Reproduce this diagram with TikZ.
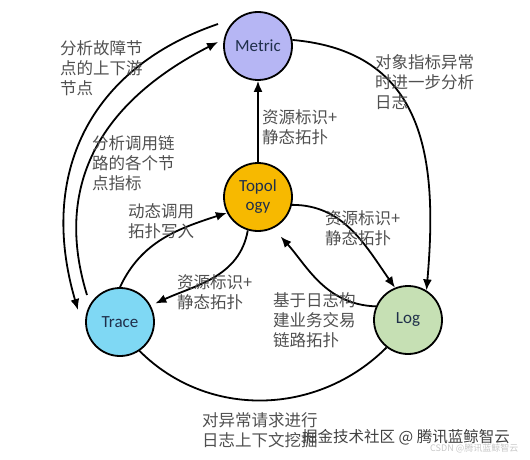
\documentclass[tikz,border=0pt]{standalone}
\usepackage{fontspec}
\setmainfont{Carlito}
\newfontfamily\cjk{Noto Sans CJK SC}
\usetikzlibrary{arrows.meta}

\definecolor{metricfill}{HTML}{B6B6F4}
\definecolor{topofill}{HTML}{F7B900}
\definecolor{tracefill}{HTML}{7FD8F4}
\definecolor{logfill}{HTML}{C6E0B4}
\definecolor{nodetext}{HTML}{1F2F4A}
\definecolor{lblgray}{HTML}{505050}

\begin{document}
\begin{tikzpicture}[x=1pt,y=1pt,
    ball/.style={circle,draw=black,line width=1.8pt,minimum size=68pt,inner sep=0pt,
        align=center,text=nodetext,font=\fontsize{17}{19}\selectfont},
    lbl/.style={anchor=north west,inner sep=0pt,align=left,text=lblgray,
        font=\cjk\fontsize{16.5}{20}\selectfont},
    conn/.style={line width=1.8pt,-{Latex[length=11pt,width=9pt]}},
    plain/.style={line width=1.8pt}]
        \useasboundingbox (0,0) rectangle (530,459);

        % the four data sources
        \node[ball,fill=metricfill] (metric) at (258,413) {Metric};
        \node[ball,fill=topofill] (topo) at (258,262) {Topol\\ogy};
        \node[ball,fill=tracefill] (trace) at (120,137) {Trace};
        \node[ball,fill=logfill] (log) at (408,139) {Log};

        % free ends of the two outer arcs
        \coordinate (outerA) at ([shift={(-40,22)}]metric.center);
        \coordinate (outerB) at ([shift={(-42,12)}]trace.center);
        \coordinate (innerA) at ([shift={(-33,27)}]trace.center);
        \coordinate (innerB) at ([shift={(-40,4)}]metric.center);

        % connectors
        \draw[conn] (topo) -- (metric);
        \draw[conn] (metric.10) to[out=-5,in=85,looseness=1.2] (log.58);
        \draw[conn] (topo.-13) to[out=0,in=125] (log.112);
        \draw[conn,shorten >=11pt] (log.157) to[out=178,in=-48] (topo.-64);
        \draw[conn,shorten >=5pt] (topo.-107) to[out=-100,in=25] (trace.28);
        \draw[conn] (trace.90) to[out=65,in=198] (topo.-153);
        \draw[conn] (outerA) .. controls (89.5,391) and (38,285) .. (outerB);
        \draw[conn] (innerA) .. controls (54,271) and (97,355) .. (innerB);
        \draw[plain] (trace.-56) to[out=-45,in=-135] (log.-128);

        % labels
        \node[lbl] (l-updown) at (60,419) {分析故障节\\点的上下游\\节点};
        \node[lbl] (l-chain) at (92,324) {分析调用链\\路的各个节\\点指标};
        \node[lbl] (l-write) at (128,256) {动态调用\\拓扑写入};
        \node[lbl] (l-metric) at (262,350) {资源标识+\\静态拓扑};
        \node[lbl] (l-further) at (375,405) {对象指标异常\\时进一步分析\\日志};
        \node[lbl] (l-log) at (325,249) {资源标识+\\静态拓扑};
        \node[lbl] (l-trace) at (177,185) {资源标识+\\静态拓扑};
        \node[lbl] (l-build) at (273,167) {基于日志构\\建业务交易\\链路拓扑};
        \node[lbl] (l-mine) at (202,47) {对异常请求进行\\日志上下文挖掘};

        % watermarks
        \node[lbl,text=black!75,font=\cjk\fontsize{15.5}{18}\selectfont] (wm) at (302,30) {掘金技术社区 @ 腾讯蓝鲸智云};
        \node[anchor=west,inner sep=0pt,text=black!22,font=\cjk\fontsize{9}{10}\selectfont] (wm-csdn) at (430,11) {CSDN @腾讯蓝鲸智云};
    \end{tikzpicture}
\end{document}
